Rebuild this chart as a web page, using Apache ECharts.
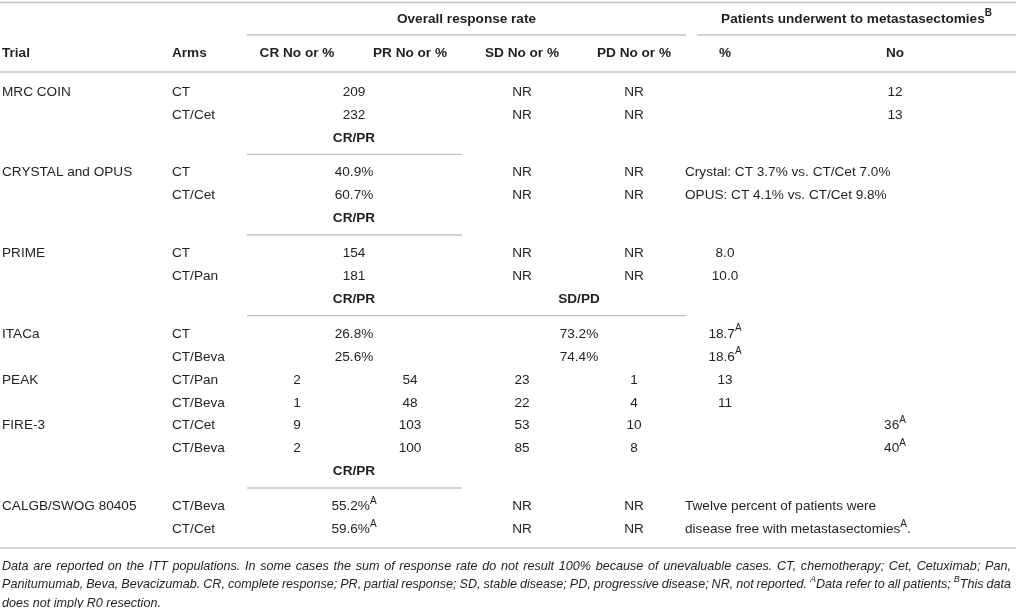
<!DOCTYPE html>
<html>
<head>
<meta charset="utf-8">
<script src="https://cdn.jsdelivr.net/npm/echarts@6/dist/echarts.min.js"></script>
<style>
html,body{margin:0;padding:0;background:#fff;}
#chart{width:1016px;height:608px;}
</style>
</head>
<body>
<div id="chart"></div>
<script>
// ---------------- DATA ----------------
const trials = ["MRC COIN", "CRYSTAL and OPUS", "PRIME", "ITACa", "PEAK", "FIRE-3", "CALGB/SWOG 80405"];
const trialArms = [
  ["CT", "CT/Cet"], ["CT", "CT/Cet"], ["CT", "CT/Pan"], ["CT", "CT/Beva"],
  ["CT/Pan", "CT/Beva"], ["CT/Cet", "CT/Beva"], ["CT/Beva", "CT/Cet"]
];
const groupHeaders = ["Overall response rate", "Patients underwent to metastasectomies{sup|B}"];
const columnHeaders = ["Trial", "Arms", "CR No or %", "PR No or %", "SD No or %", "PD No or %", "%", "No"];
// one entry per arm row (14 rows)
const crValues = [null, null, null, null, null, null, null, null, "2", "1", "9", "2", null, null];
const prValues = [null, null, null, null, null, null, null, null, "54", "48", "103", "100", null, null];
const crPrValues = ["209", "232", "40.9%", "60.7%", "154", "181", "26.8%", "25.6%", null, null, null, null, "55.2%{sup|A}", "59.6%{sup|A}"];
const sdValues = ["NR", "NR", "NR", "NR", "NR", "NR", null, null, "23", "22", "53", "85", "NR", "NR"];
const pdValues = ["NR", "NR", "NR", "NR", "NR", "NR", null, null, "1", "4", "10", "8", "NR", "NR"];
const sdPdValues = [null, null, null, null, null, null, "73.2%", "74.4%", null, null, null, null, null, null];
const metPercent = [null, null, null, null, "8.0", "10.0", "18.7{sup|A}", "18.6{sup|A}", "13", "11", null, null, null, null];
const metNumber = ["12", "13", null, null, null, null, null, null, null, null, "36{sup|A}", "40{sup|A}", null, null];
const metNotes = [null, null, "Crystal: CT 3.7% vs. CT/Cet 7.0%", "OPUS: CT 4.1% vs. CT/Cet 9.8%", null, null, null, null, null, null, null, null,
  "Twelve percent of patients were", "disease free with metastasectomies{sup|A}."];
// sub-header rows placed after the given trial
const subHeaderAfterTrial = [0, 1, 2, 5];
const subHeaderLabels = [["CR/PR"], ["CR/PR"], ["CR/PR", "SD/PD"], ["CR/PR"]];
const footnoteLines = [
  "Data are reported on the ITT populations. In some cases the sum of response rate do not result 100% because of unevaluable cases. CT, chemotherapy; Cet, Cetuximab; Pan,",
  "Panitumumab, Beva, Bevacizumab. CR, complete response; PR, partial response; SD, stable disease; PD, progressive disease; NR, not reported. {sup|A}Data refer to all patients; {sup|B}This data",
  "does not imply R0 resection."
];

// ---------------- LAYOUT ----------------
const W = 1016, H = 608;
const colX = { trial: 2, arm: 172, cr: 297, pr: 410, sd: 522, pd: 634, pct: 725, no: 895, note: 685, crpr: 354, sdpd: 579 };
const spanORR = [247, 686], spanMet = [697, 1016], spanCRPR = [247, 462];
const yTopLine = 2.5, yGroup = 19, yGroupLine = 35, yHeader = 53, yHeaderLine = 72;
const yFirstRow = 92, rowStep = 22.9, lineGap = 12, subLineOffset = 16.5, bottomLineOffset = 18.7;
const yFoot0 = 566, footStep = 18.5, footLeft = 2, footRight = 1011;

const FONT = '"Liberation Sans", Arial, Helvetica, sans-serif';
const BODY_SIZE = 13.6, FOOT_SIZE = 12.6;
const TEXT_COLOR = '#231f20';
const LINE_COLOR = '#c4c4c4';
const supSizeFor = s => s < 13 ? 9 : 10;

const texts = [];  // {x,y,text,align,bold,italic,size}
const rules = [];  // {x1,x2,y,w}
function addText(x, y, text, align, bold, italic, size) {
  if (text == null) return;
  texts.push({ x, y, text, align: align || 'center', bold: !!bold, italic: !!italic, size: size || BODY_SIZE });
}

// text measuring for justified footnote
const mctx = document.createElement('canvas').getContext('2d');
function measureRich(str, size, italic) {
  const parts = str.split(/(\{sup\|[^}]*\})/);
  let w = 0;
  parts.forEach(p => {
    if (!p) return;
    const m = p.match(/^\{sup\|([^}]*)\}$/);
    const s = m ? supSizeFor(size) : size;
    mctx.font = (italic ? 'italic ' : '') + s + 'px ' + FONT;
    w += mctx.measureText(m ? m[1] : p).width;
  });
  return w;
}

// header
rules.push({ x1: 0, x2: W, y: yTopLine, w: 1.6 });
addText((spanORR[0] + spanORR[1]) / 2, yGroup, groupHeaders[0], 'center', true);
addText((spanMet[0] + spanMet[1]) / 2, yGroup, groupHeaders[1], 'center', true);
rules.push({ x1: spanORR[0], x2: spanORR[1], y: yGroupLine, w: 1.3 });
rules.push({ x1: spanMet[0], x2: spanMet[1], y: yGroupLine, w: 1.3 });
const headerKeys = ['trial', 'arm', 'cr', 'pr', 'sd', 'pd', 'pct', 'no'];
columnHeaders.forEach((h, i) => {
  const k = headerKeys[i];
  addText(colX[k], yHeader, h, (k === 'trial' || k === 'arm') ? 'left' : 'center', true);
});
rules.push({ x1: 0, x2: W, y: yHeaderLine, w: 1.6 });

// body
let k = 0, lines = 0, r = 0, lastY = 0;
const rowY = () => yFirstRow + rowStep * k + lineGap * lines;
trials.forEach((t, ti) => {
  trialArms[ti].forEach((arm, ai) => {
    const y = rowY();
    if (ai === 0) addText(colX.trial, y, t, 'left');
    addText(colX.arm, y, arm, 'left');
    addText(colX.cr, y, crValues[r]);
    addText(colX.pr, y, prValues[r]);
    addText(colX.crpr, y, crPrValues[r]);
    addText(colX.sd, y, sdValues[r]);
    addText(colX.pd, y, pdValues[r]);
    addText(colX.sdpd, y, sdPdValues[r]);
    addText(colX.pct, y, metPercent[r]);
    addText(colX.no, y, metNumber[r]);
    addText(colX.note, y, metNotes[r], 'left');
    lastY = y;
    r++; k++;
  });
  const si = subHeaderAfterTrial.indexOf(ti);
  if (si >= 0) {
    const y = rowY();
    const labs = subHeaderLabels[si];
    addText(colX.crpr, y, labs[0], 'center', true);
    if (labs[1]) addText(colX.sdpd, y, labs[1], 'center', true);
    const span = labs.length > 1 ? spanORR : spanCRPR;
    rules.push({ x1: span[0], x2: span[1], y: y + subLineOffset, w: 1.3 });
    k++; lines++;
  }
});
rules.push({ x1: 0, x2: W, y: lastY + bottomLineOffset, w: 1.6 });

// footnote (justified except last line)
footnoteLines.forEach((l, i) => {
  const y = yFoot0 + footStep * i;
  const words = l.split(' ');
  const widths = words.map(w => measureRich(w, FOOT_SIZE, true));
  const total = widths.reduce((a, b) => a + b, 0);
  let gap = measureRich(' ', FOOT_SIZE, true);
  if (i < footnoteLines.length - 1 && words.length > 1) gap = (footRight - footLeft - total) / (words.length - 1);
  let x = footLeft;
  words.forEach((w, wi) => {
    addText(x, y, w, 'left', false, true, FOOT_SIZE);
    x += widths[wi] + gap;
  });
});

// ---------------- CHART ----------------
const chart = echarts.init(document.getElementById('chart'), null, { renderer: 'canvas' });
chart.setOption({
  animation: false,
  backgroundColor: '#ffffff',
  grid: { left: 0, right: 0, top: 0, bottom: 0 },
  xAxis: { type: 'value', min: 0, max: W, show: false },
  yAxis: { type: 'value', min: 0, max: H, inverse: true, show: false },
  series: [
    {
      type: 'custom',
      coordinateSystem: 'cartesian2d',
      data: rules.map(l => [l.x1, l.y, l.x2]),
      renderItem: function (params, api) {
        const a = api.coord([api.value(0), api.value(1)]);
        const b = api.coord([api.value(2), api.value(1)]);
        return {
          type: 'line',
          shape: { x1: a[0], y1: a[1], x2: b[0], y2: b[1] },
          style: { stroke: LINE_COLOR, lineWidth: rules[params.dataIndex].w }
        };
      }
    },
    {
      type: 'custom',
      coordinateSystem: 'cartesian2d',
      data: texts.map(t => [t.x, t.y]),
      renderItem: function (params, api) {
        const t = texts[params.dataIndex];
        const p = api.coord([api.value(0), api.value(1)]);
        return {
          type: 'text',
          x: p[0], y: p[1],
          style: {
            text: t.text,
            align: t.align,
            verticalAlign: 'middle',
            fontFamily: FONT,
            fontSize: t.size,
            fontWeight: t.bold ? 'bold' : 'normal',
            fontStyle: t.italic ? 'italic' : 'normal',
            fill: TEXT_COLOR,
            rich: {
              sup: {
                fontFamily: FONT,
                fontSize: supSizeFor(t.size),
                fontWeight: t.bold ? 'bold' : 'normal',
                fontStyle: t.italic ? 'italic' : 'normal',
                fill: TEXT_COLOR,
                padding: [0, 0, 11, 0]
              }
            }
          }
        };
      }
    }
  ]
});
</script>
</body>
</html>
